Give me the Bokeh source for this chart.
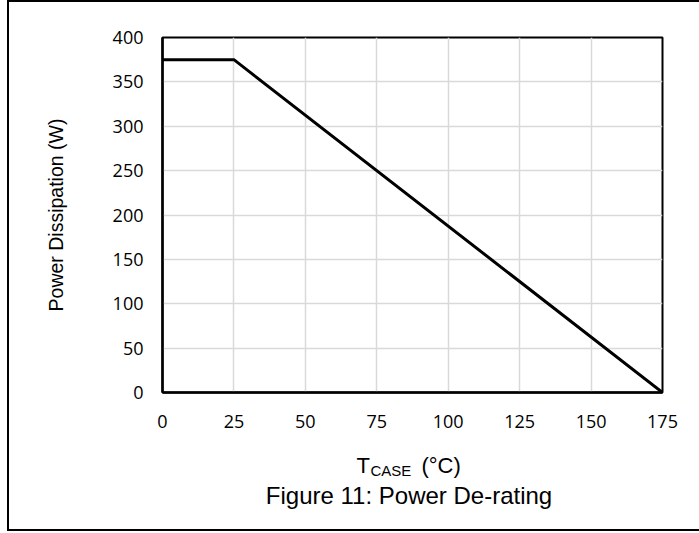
from bokeh.plotting import figure
from bokeh.models import Label, FixedTicker, Range1d
from bokeh.layouts import column
from bokeh.embed import file_html
from bokeh.resources import INLINE

# data
t_case = [0, 25, 175]
power = [375, 375, 0]
x_ticks = [0, 25, 50, 75, 100, 125, 150, 175]
y_ticks = [0, 50, 100, 150, 200, 250, 300, 350, 400]
y_title = "Power Dissipation (W)"
x_title_main, x_title_sub, x_title_unit = "T", "CASE", "(°C)"
caption = "Figure 11: Power De-rating"

OX, OY = 9, 2          # content origin inside the bordered box
W = 699 - OX
FL, FR, FT, FB = 162, 662, 37, 392
H1 = 440 - OY
H2 = 529 - 440

p = figure(width=W, height=H1, output_backend="svg", toolbar_location=None,
           x_range=(0, 175), y_range=(0, 400),
           min_border_left=FL - OX, min_border_right=699 - FR,
           min_border_top=FT - OY, min_border_bottom=OY + H1 - FB)
p.background_fill_color = "white"
p.border_fill_color = "white"
p.outline_line_color = "black"
p.outline_line_width = 2

for ax, ticks in ((p.xaxis[0], x_ticks), (p.yaxis[0], y_ticks)):
    ax.ticker = FixedTicker(ticks=ticks)
    ax.major_tick_in = 0
    ax.major_tick_out = 0
    ax.minor_tick_in = 0
    ax.minor_tick_out = 0
    ax.axis_line_color = "black"
    ax.axis_line_width = 2.5
    ax.major_label_text_font = "Open Sans"
    ax.major_label_text_font_size = "18px"
    ax.major_label_text_color = "black"
p.xaxis.major_label_standoff = 22
p.yaxis.major_label_standoff = 19
p.yaxis.axis_label = y_title
p.yaxis.axis_label_text_font = "Liberation Sans"
p.yaxis.axis_label_text_font_style = "normal"
p.yaxis.axis_label_text_font_size = "19.5px"
p.yaxis.axis_label_text_color = "black"
p.yaxis.axis_label_standoff = 43

p.xgrid.ticker = FixedTicker(ticks=x_ticks)
p.ygrid.ticker = FixedTicker(ticks=y_ticks)
for g in (p.xgrid[0], p.ygrid[0]):
    g.grid_line_color = "#d9d9d9"
    g.grid_line_width = 1.5

p.line(t_case, power, line_color="black", line_width=3, line_join="miter")

# lower text panel: frame aligned with the chart frame, data coords = page pixels
q = figure(width=W, height=H2, output_backend="svg", toolbar_location=None,
           x_range=Range1d(FL, FR), y_range=Range1d(OY + H1 + H2, OY + H1),
           min_border_left=FL - OX, min_border_right=699 - FR,
           min_border_top=0, min_border_bottom=0,
           x_axis_location=None, y_axis_location=None)
q.outline_line_color = None
q.grid.visible = False
q.background_fill_color = "white"
q.border_fill_color = "white"

font = "Liberation Sans"
def lab(x, y, text, size, **kw):
    q.add_layout(Label(x=x, y=y, text=text, text_font=font, text_font_size=size,
                       text_baseline="alphabetic", text_color="black", **kw))

lab(356, 465, x_title_main, "22px")
lab(370, 470, x_title_sub, "15px")
lab(421, 465, x_title_unit, "22px")
lab(408.5, 495, caption, "24px", text_align="center")

layout = column(p, q, spacing=0)
layout.styles = {"margin-left": f"{OX - 2}px", "border-left": "2px solid black",
                 "border-top": "2px solid black", "border-bottom": "2px solid black",
                 "border-right": "none"}

open("out.html", "w").write(file_html(layout, INLINE))
